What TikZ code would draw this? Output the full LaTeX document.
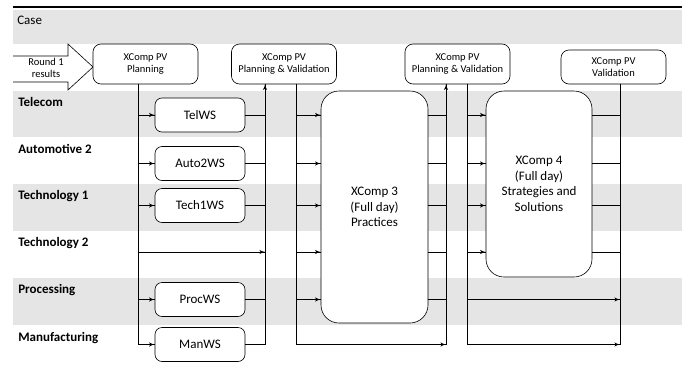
\documentclass[tikz,border=0pt]{standalone}
\usepackage{fontspec}
\setmainfont{Carlito}
\usetikzlibrary{arrows}
\usetikzlibrary{decorations.markings}
\tikzset{->/.style = {decoration={markings,
                                  mark=at position 1 with {\arrow[scale=1.2]{latex'}}},
                      postaction={decorate}}}
\tikzset{band/.style = {fill = gray!20}}
\tikzset{lab/.style = {anchor = base west, inner sep = 0, font = \bfseries\fontsize{13}{15.6}\selectfont}}
\tikzset{pvbox/.style = {draw, fill = white, rounded corners = 8, align = center,
                         minimum width = 105, minimum height = 40, inner sep = 0,
                         font = \fontsize{10.5}{12.6}\selectfont}}
\tikzset{wsbox/.style = {draw, fill = white, rounded corners = 7, minimum width = 90,
                         minimum height = 34, inner sep = 0, font = \fontsize{13}{15.6}\selectfont}}
\tikzset{bigbox/.style = {draw, fill = white, rounded corners = 18, align = center,
                          inner sep = 0, font = \fontsize{13}{15.6}\selectfont}}

\begin{document}
\begin{tikzpicture}[x = 1pt, y = -1pt, line width = 0.6pt]
    \useasboundingbox (0, 0) rectangle (691, 367);

    % bands
    \fill [band] (13, 10) rectangle (682, 44);
    \fill [band] (13, 91) rectangle (682, 137);
    \fill [band] (13, 184) rectangle (682, 231);
    \fill [band] (13, 278) rectangle (682, 325);
    \draw [line width = 1.2] (13, 7) -- (682, 7);

    \node [lab, font = \fontsize{13}{15.6}\selectfont] (case) at (17, 24) {Case};
    \node [lab] (telecom) at (18, 106) {Telecom};
    \node [lab] (automotive) at (18, 153) {Automotive 2};
    \node [lab] (technology1) at (18, 199) {Technology 1};
    \node [lab] (technology2) at (18, 246) {Technology 2};
    \node [lab] (processing) at (18, 293) {Processing};
    \node [lab] (manufacturing) at (18, 341) {Manufacturing};

    % round 1 arrow
    \draw (13, 56) -- (68, 56) -- (68, 44) -- (93, 67) -- (68, 90) -- (68, 82) -- (13, 82);
    \node [font = \fontsize{10.5}{12}\selectfont, align = center] (round) at (46, 68) {Round 1\\results};

    \node [pvbox] (pv1) at (145.5, 64) {XComp PV\\Planning};
    \node [pvbox] (pv2) at (284, 64) {XComp PV\\Planning \& Validation};
    \node [pvbox] (pv3) at (457.5, 64) {XComp PV\\Planning \& Validation};
    \node [pvbox, minimum height = 34] (pv4) at (613.5, 67) {XComp PV\\Validation};

    \node [wsbox] (telws) at (200, 115) {TelWS};
    \node [wsbox] (auto2ws) at (200, 163.5) {Auto2WS};
    \node [wsbox] (tech1ws) at (200, 205.5) {Tech1WS};
    \node [wsbox] (procws) at (200, 299.5) {ProcWS};
    \node [wsbox] (manws) at (200, 344.5) {ManWS};

    \node [bigbox, minimum width = 107, minimum height = 232] (xc3) at (374.5, 207)
        {XComp 3\\(Full day)\\Practices};
    \node [bigbox, minimum width = 106, minimum height = 186] (xc4) at (539, 184)
        {XComp 4\\(Full day)\\Strategies and\\Solutions};

    \coordinate (b1) at (138, 0);
    \coordinate (b2) at (265, 0);
    \coordinate (b3) at (296, 0);
    \coordinate (b4) at (446, 0);
    \coordinate (b5) at (467, 0);
    \coordinate (b6) at (620, 0);
    \coordinate (t2row) at (0, 252);

    % workshops
    \draw [->] (pv1.south -| b1) |- (manws.west);
    \foreach \r in {telws, auto2ws, tech1ws, procws} {
        \draw [->] (b1 |- \r) -- (\r.west);
        \draw (\r.east) -- (b2 |- \r);
    }
    \draw [->] (b1 |- t2row) -- (b2 |- t2row);
    \draw [->] (manws.east) -| (pv2.south -| b2);

    % XComp 3
    \draw [->] (pv2.south -| b3) |- (b4 |- manws);
    \draw [->] (b4 |- manws) -- (pv3.south -| b4);
    \foreach \r in {telws, auto2ws, tech1ws, t2row, procws} {
        \draw [->] (b3 |- \r) -- (xc3.west |- \r);
        \draw (xc3.east |- \r) -- (b4 |- \r);
    }

    % XComp 4
    \draw [->] (pv3.south -| b5) |- (b6 |- manws);
    \draw (b6 |- manws) -- (pv4.south -| b6);
    \draw [->] (b5 |- procws) -- (b6 |- procws);
    \foreach \r in {telws, auto2ws, tech1ws, t2row} {
        \draw [->] (b5 |- \r) -- (xc4.west |- \r);
        \draw (xc4.east |- \r) -- (b6 |- \r);
    }
\end{tikzpicture}
\end{document}
